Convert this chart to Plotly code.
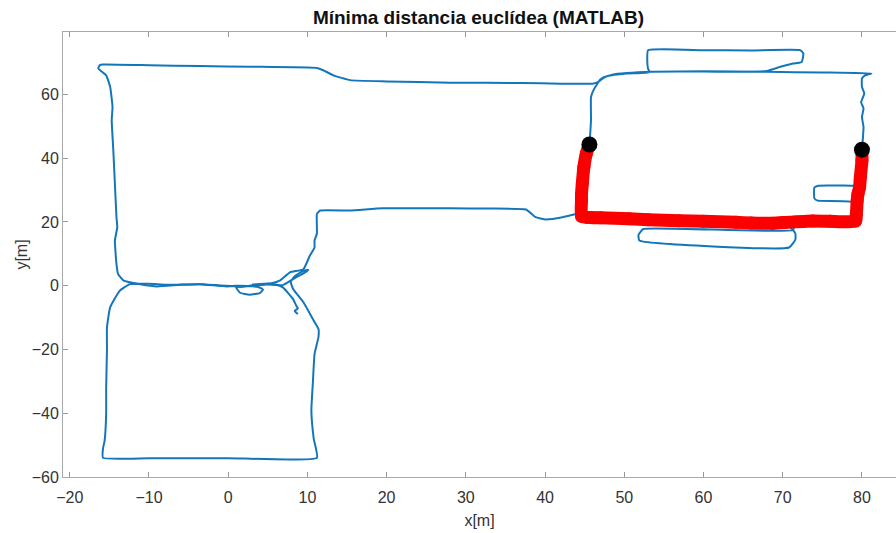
import plotly.graph_objects as go

# Trajectory (blue), segments separated by None
path_x = [
    # tail near origin, y=0 corridor westwards, big loop, east corridor, east block
    8.8, 8.4, 8.8, 8.6, 8.2, 6.9, 6.0, 5.0, 4.0, 3.0, 2.0, 1.0, 1.5, 2.7, 4.0, 4.4, 3.8, 2.5, 1.0,
    -0.2, -3.6, -6.0, -9.0, -11.1, -13.2, -13.9, -14.1, -14.3, -14.0, -14.1, -14.3, -14.5, -14.7,
    -14.6, -14.9, -15.4, -16.4, -16.2, -15.8, -10.0, -3.6, 3.0, 11.2, 12.0, 13.3, 15.4, 20.0, 28.0,
    37.0, 42.0, 46.0, 46.6, 47.5, 48.5, 50.3, 53.5, 60.0, 68.0, 75.0, 81.2, 80.4, 80.0, 80.0, 80.3,
    79.9, 80.2, 80.0, 80.2, 80.1, 80.0, 79.8, 79.5, 78.7, 74.5, 74.0, 74.0, 74.4, 78.7, 79.1, 78.9,
    73.0, 71.6, 71.3, 52.4, 51.8, 51.9, 70.8, 71.6, 71.6, 71.3, 70.0, 64.0, 57.0, 50.6, 45.2, 44.5,
    44.6, 44.5, 44.7, 44.9, 45.2, 45.6, 45.7, 45.8, 45.8, 46.1, 46.5, 47.0, 47.9, 50.3, 53.2, 53.0,
    52.9, 53.0, 60.0, 66.0, 72.2, 72.6, 72.4, 71.3, 69.7, 68.0, 65.0, 60.0,
    None,
    # middle corridor down into the tangle
    43.9, 42.2, 40.1, 38.8, 37.6, 33.0, 28.0, 19.5, 15.4, 11.6, 11.2, 11.2, 10.9, 10.9, 10.3, 9.5,
    7.8, 6.5, 5.5, 4.5, 3.0,
    None,
    # tangle and southern block
    3.0, 5.0, 6.9, 8.2, 9.7, 10.1, 9.4, 8.4, 7.9, 8.2, 9.5, 10.7, 11.4, 11.4, 10.9, 10.7, 10.5,
    10.8, 11.2, 0.0, -10.0, -15.8, -15.8, -15.6, -15.4, -15.4, -15.3, -15.3, -14.9, -13.7, -12.4,
    -10.0, -7.8, -3.6, -0.2, 1.5, 3.0,
]
path_y = [
    -8.9, -7.9, -7.1, -6.3, -4.2, -0.5, 0.4, 0.6, 0.2, 0.0, -0.2, -0.5, -2.2, -2.8, -2.3, -1.2, -0.4, -0.1, 0.0,
    -0.2, 0.5, 0.3, -0.2, 0.5, 1.6, 3.7, 6.8, 14.2, 18.3, 21.5, 32.0, 42.5, 51.9,
    56.1, 62.4, 66.0, 68.2, 69.2, 69.4, 69.2, 68.9, 68.7, 68.3, 67.6, 66.0, 64.5, 64.1, 63.7,
    63.6, 63.4, 63.4, 63.8, 65.4, 66.2, 66.7, 67.1, 67.3, 67.1, 66.9, 66.6, 66.0, 65.0, 62.4, 60.3,
    57.6, 55.6, 52.9, 49.8, 45.6, 42.7, 34.0, 31.5, 31.4, 31.4, 30.8, 27.4, 26.7, 26.3, 24.0, 20.2,
    20.2, 19.8, 17.5, 17.8, 16.0, 14.2, 12.0, 14.5, 16.3, 17.5, 19.8, 19.9, 20.4, 21.0, 21.5, 22.0,
    26.7, 28.5, 32.0, 37.2, 41.4, 44.3, 47.7, 52.0, 59.2, 61.3, 63.0, 64.8, 65.8, 66.6, 67.0, 68.1,
    71.0, 73.9, 73.9, 73.8, 73.9, 72.9, 70.2, 69.7, 68.7, 67.4, 67.1, 67.2,
    None,
    22.5, 21.5, 20.8, 21.5, 23.9, 24.2, 24.3, 24.3, 23.6, 23.6, 22.5, 16.3, 14.2, 12.0, 9.4, 5.2,
    4.2, 1.6, 0.8, 0.6, 0.3,
    None,
    0.3, 0.4, 0.2, 2.1, 4.2, 5.0, 4.6, 3.0, 1.2, -1.0, -5.2, -10.5, -13.6, -16.0, -21.5, -30.0, -39.3,
    -48.0, -54.0, -54.1, -54.1, -54.0, -51.0, -48.7, -40.0, -32.0, -20.0, -13.1, -6.8, -1.6, 0.5,
    0.6, 0.3, 0.5, 0.0, -0.3, 0.1,
]

# Minimum-distance route (red)
route_x = [80.0, 80.0, 79.8, 79.7, 79.5, 79.4, 79.3, 79.2, 76.0, 73.8, 70.0, 68.7, 66.0, 64.1,
           60.0, 56.9, 53.0, 50.6, 47.0, 45.2, 44.6, 44.6, 44.6, 44.7, 44.9, 45.2, 45.6]
route_y = [42.7, 39.3, 34.0, 30.9, 28.8, 26.7, 22.5, 20.3, 20.2, 20.3, 19.8, 19.6, 19.7, 19.9,
           20.2, 20.4, 20.7, 21.0, 21.3, 21.5, 21.8, 26.7, 28.5, 32.0, 37.2, 41.4, 44.3]

# Start / end points
end_x = [45.6, 80.0]
end_y = [44.3, 42.7]

x_ticks = [-20, -10, 0, 10, 20, 30, 40, 50, 60, 70, 80]
y_ticks = [-60, -40, -20, 0, 20, 40, 60]

fig = go.Figure()
fig.add_trace(go.Scatter(x=path_x, y=path_y, mode="lines",
                         line=dict(color="rgb(20,118,186)", width=2, shape="spline", smoothing=0.4),
                         connectgaps=False, hoverinfo="skip"))
fig.add_trace(go.Scatter(x=route_x, y=route_y, mode="lines+markers",
                         line=dict(color="rgb(250,0,0)", width=13, shape="spline", smoothing=0.5),
                         marker=dict(color="rgb(250,0,0)", size=13),
                         hoverinfo="skip"))
fig.add_trace(go.Scatter(x=end_x, y=end_y, mode="markers",
                         marker=dict(color="black", size=16),
                         hoverinfo="skip"))

axis_font = dict(family="Liberation Sans, Arial, sans-serif", size=16, color="#333333")

fig.update_layout(
    width=896, height=533,
    margin=dict(l=63, r=0, t=32, b=56),
    paper_bgcolor="white", plot_bgcolor="white",
    showlegend=False,
    title=dict(text="<b>Mínima distancia euclídea (MATLAB)</b>",
               font=dict(family="Liberation Sans, Arial, sans-serif", size=19, color="#111111"),
               x=0.534, xanchor="center", y=0.968, yanchor="middle"),
    xaxis=dict(range=[-20.85, 84.3], tickvals=x_ticks, ticks="inside", ticklen=5,
               tickcolor="#999999", showline=True, linecolor="#aaaaaa", linewidth=1,
               mirror="ticks", showgrid=False, zeroline=False, tickfont=axis_font,
               ticklabelstandoff=6,
               title=dict(text="x[m]", font=axis_font, standoff=9)),
    yaxis=dict(range=[-60, 79.6], tickvals=y_ticks, ticks="inside", ticklen=5,
               tickcolor="#999999", showline=True, linecolor="#aaaaaa", linewidth=1,
               showgrid=False, zeroline=False, tickfont=axis_font,
               ticklabelstandoff=0,
               title=dict(text="y[m]", font=axis_font, standoff=0)),
)

fig.write_html("out.html")
